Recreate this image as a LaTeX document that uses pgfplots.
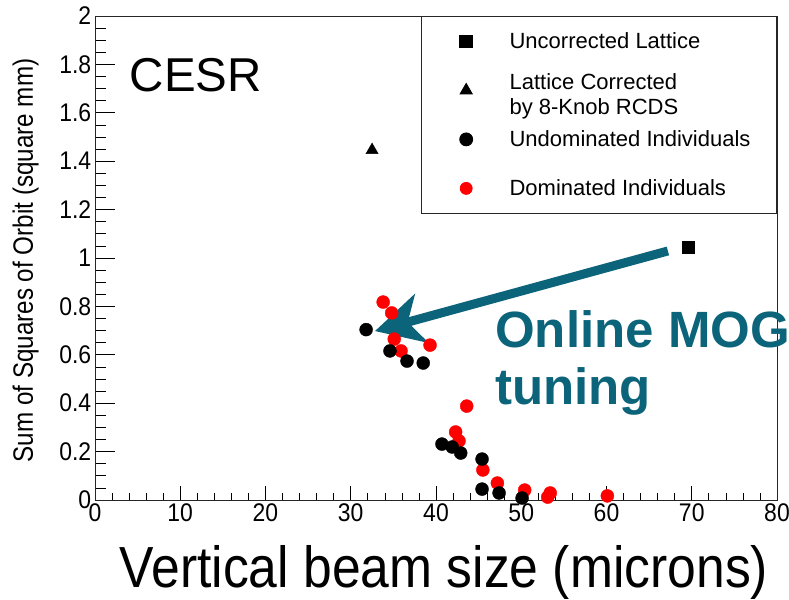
\documentclass[border=0pt]{standalone}
\usepackage{pgfplots}
\pgfplotsset{compat=1.18}
\usepackage{fontspec}
\setmainfont{Liberation Sans}
\usetikzlibrary{arrows.meta}
\definecolor{mogteal}{RGB}{12,100,122}
\begin{document}
\begin{tikzpicture}[x=1bp,y=1bp]
\useasboundingbox (0,0) rectangle (789,600);
\begin{axis}[
  at={(95bp,100bp)}, anchor=south west,
  width=682bp, height=484bp, scale only axis,
  xmin=0, xmax=80, ymin=0, ymax=2,
  xtick={0,10,20,30,40,50,60,70,80},
  ytick={0,0.2,0.4,0.6,0.8,1,1.2,1.4,1.6,1.8,2},
  minor x tick num=4, minor y tick num=3,
  tick align=inside, tick pos=left,
  xtick style={/pgfplots/major tick length=13.5bp,/pgfplots/minor tick length=7bp},
  ytick style={/pgfplots/major tick length=20bp,/pgfplots/minor tick length=11bp},
  every tick/.style={black, line width=0.7bp},
  axis line style={black!85, line width=0.8bp},
  /pgf/number format/assume math mode=true,
  ticklabel style={font=\fontsize{25.5bp}{28bp}\selectfont, xscale=0.9},
  xticklabel style={inner sep=3bp},
  yticklabel style={inner sep=4bp, /pgf/number format/.cd, fixed, precision=1},
  xlabel={Vertical beam size (microns)},
  xlabel style={at={([xshift=8bp,yshift=-88bp]rel axis cs:0.5,0)}, anchor=base,
    font=\fontsize{58bp}{60bp}\selectfont, xscale=0.89, inner sep=0pt},
  ylabel={Sum of Squares of Orbit (square mm)},
  ylabel style={at={([xshift=-62bp,yshift=-2.5bp]rel axis cs:0,0.5)}, anchor=base, rotate=0,
    font=\fontsize{28bp}{30bp}\selectfont, xscale=0.865, inner sep=0pt},
  legend cell align=left,
  legend image code/.code={\path (-44bp,0bp) (10bp,0bp); \draw[#1] plot coordinates {(0bp,0bp)};},
  legend style={at={(rel axis cs:1,1)}, anchor=north east, draw=black!85, line width=0.8bp,
    fill=white, inner xsep=0bp, inner ysep=0.5bp, row sep=0bp, column sep=33bp,
    font=\fontsize{22bp}{24bp}\selectfont,
    nodes={minimum height=49bp, inner sep=0bp}},
]
\addplot[only marks, mark=*, mark size=6.5bp, color=red, forget plot] coordinates {
(33.8,0.818) (34.8,0.773) (35.1,0.665) (35.9,0.616) (39.3,0.640)
(43.6,0.388) (42.3,0.281) (42.7,0.244) (45.5,0.124) (47.2,0.070)
(50.4,0.041) (53.4,0.029) (53.1,0.012) (60.1,0.017)
};
\addplot[only marks, mark=square*, mark size=6.3bp, color=black] coordinates {(69.6,1.045)};
\addlegendentry{\makebox[267bp][l]{Uncorrected Lattice}}
\addplot[only marks, mark=triangle*, mark size=7bp, color=black] coordinates {(32.5,1.446)};
\addlegendentry{\makebox[267bp][l]{\raisebox{5.5bp}{\renewcommand{\arraystretch}{1.04}\begin{tabular}[c]{@{}l@{}}Lattice Corrected\\by 8-Knob RCDS\end{tabular}}}}
\addplot[only marks, mark=*, mark size=6.5bp, color=black] coordinates {
(31.8,0.704) (34.6,0.616) (36.6,0.574) (38.5,0.566)
(40.7,0.231) (41.9,0.219) (42.9,0.194) (45.4,0.169)
(45.4,0.045) (47.4,0.029) (50.1,0.008)
};
\addlegendentry{\makebox[267bp][l]{Undominated Individuals}}
\addlegendimage{only marks, mark=*, mark size=6bp, color=red}
\addlegendentry{\makebox[267bp][l]{Dominated Individuals}}
\draw[line width=9bp, color=mogteal, -{Stealth[length=48bp, width=50bp, inset=14bp]}]
  (axis cs:67.2,1.029) -- (axis cs:32.84,0.698);
\end{axis}
\node[anchor=base west, inner sep=0pt, font=\fontsize{47.5bp}{50bp}\selectfont] at (129.6,508) {CESR};
\node[anchor=base west, inner sep=0pt, color=mogteal, font=\bfseries\fontsize{51bp}{57bp}\selectfont] at (495,252) {Online MOG};
\node[anchor=base west, inner sep=0pt, color=mogteal, font=\bfseries\fontsize{51bp}{57bp}\selectfont] at (495,195) {tuning};
\end{tikzpicture}
\end{document}
